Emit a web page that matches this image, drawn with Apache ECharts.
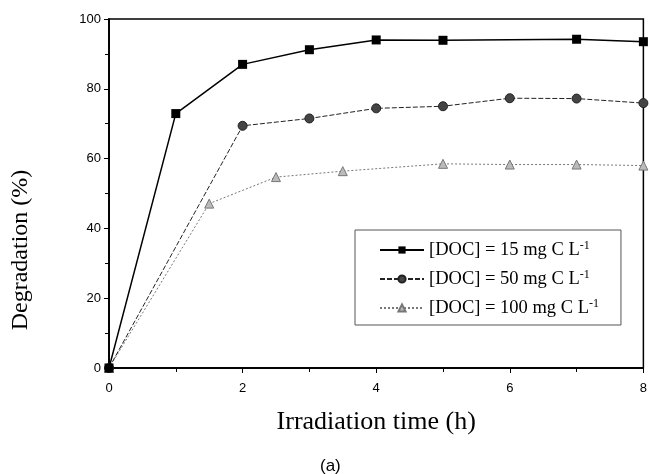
<!DOCTYPE html>
<html>
<head>
<meta charset="UTF-8">
<title>Degradation</title>
<script src="https://cdn.jsdelivr.net/npm/echarts@6/dist/echarts.min.js"></script>
<style>
  body { margin: 0; background: #fff; }
  #main { width: 650px; height: 474px; }
</style>
</head>
<body>
<div id="main"></div>
<script>
// irradiation time (h) / degradation (%)
var doc15X = [0, 1, 2, 3, 4, 5, 7, 8];
var doc15Y = [0, 72.9, 87.0, 91.2, 94.0, 93.9, 94.2, 93.5];
var doc50X = [0, 2, 3, 4, 5, 6, 7, 8];
var doc50Y = [0, 69.4, 71.5, 74.4, 75.0, 77.3, 77.2, 75.9];
var doc100X = [0, 1.5, 2.5, 3.5, 5, 6, 7, 8];
var doc100Y = [0, 47.1, 54.7, 56.4, 58.5, 58.3, 58.3, 58.0];
var names = ['[DOC] = 15 mg C L', '[DOC] = 50 mg C L', '[DOC] = 100 mg C L'];

function pairs(xs, ys) {
  var out = [];
  for (var i = 0; i < xs.length; i++) out.push([xs[i], ys[i]]);
  return out;
}

var myChart = echarts.init(document.getElementById('main'));
var serif = 'Liberation Serif';
var sans = 'Liberation Sans';

var axisLine = { show: true, lineStyle: { color: '#000', width: 1.5 } };
var tickStyle = { color: '#000', width: 1 };

var option = {
  backgroundColor: '#fff',
  animation: false,
  title: {
    text: '(a)',
    left: 315,
    top: 453,
    textStyle: { fontFamily: sans, fontSize: 17, fontWeight: 'normal', color: '#000' }
  },
  grid: { left: 109, right: 6, top: 19, bottom: 106, show: true, borderColor: '#000', borderWidth: 1.5 },
  legend: {
    orient: 'vertical',
    left: 355,
    top: 230,
    padding: [10, 22, 7, 24],
    itemGap: 9,
    itemWidth: 44,
    itemHeight: 9,
    backgroundColor: '#fff',
    borderColor: '#555',
    borderWidth: 1,
    borderRadius: 0,
    data: names,
    formatter: function (n) { return '{t|' + n + '}{s|-1}'; },
    textStyle: {
      rich: {
        t: { fontFamily: serif, fontSize: 18.5, lineHeight: 20, color: '#000' },
        s: { fontFamily: serif, fontSize: 12, lineHeight: 20, color: '#000', verticalAlign: 'top', padding: [0, 0, 8, 0] }
      }
    }
  },
  graphic: [{
    type: 'text',
    x: 9,
    y: 250,
    rotation: Math.PI / 2,
    style: {
      text: 'Degradation (%)',
      font: '24px "Liberation Serif"',
      fill: '#000',
      align: 'center',
      verticalAlign: 'top'
    }
  }],
  xAxis: [{
    type: 'value',
    min: 0, max: 8, interval: 2,
    name: 'Irradiation time (h)',
    nameLocation: 'middle',
    nameGap: 41,
    nameTextStyle: { fontFamily: serif, fontSize: 26, color: '#000' },
    axisLine: axisLine,
    axisTick: { show: true, inside: false, length: 5, lineStyle: tickStyle },
    minorTick: { show: true, splitNumber: 2, length: 4, lineStyle: tickStyle },
    axisLabel: { fontFamily: sans, fontSize: 13, color: '#000', margin: 14 },
    splitLine: { show: false }
  }, {
    type: 'value',
    position: 'top',
    min: 0, max: 8, interval: 2,
    axisLine: axisLine,
    axisTick: { show: true, inside: true, length: 5, lineStyle: tickStyle },
    minorTick: { show: true, splitNumber: 2, length: 4, lineStyle: tickStyle },
    axisLabel: { show: false },
    splitLine: { show: false }
  }],
  yAxis: [{
    type: 'value',
    min: 0, max: 100, interval: 20,
    axisLine: axisLine,
    axisTick: { show: true, inside: false, length: 5, lineStyle: tickStyle },
    minorTick: { show: true, splitNumber: 2, length: 4, lineStyle: tickStyle },
    axisLabel: { fontFamily: sans, fontSize: 13, color: '#000', margin: 8 },
    splitLine: { show: false }
  }, {
    type: 'value',
    position: 'right',
    min: 0, max: 100, interval: 20,
    axisLine: axisLine,
    axisTick: { show: true, inside: true, length: 5, lineStyle: tickStyle },
    minorTick: { show: true, splitNumber: 2, length: 4, lineStyle: tickStyle },
    axisLabel: { show: false },
    splitLine: { show: false }
  }],
  series: [{
    name: names[0],
    type: 'line',
    data: pairs(doc15X, doc15Y),
    symbol: 'rect',
    symbolSize: 9,
    z: 4,
    lineStyle: { color: '#000', width: 1.5 },
    itemStyle: { color: '#000' }
  }, {
    // drawn on the twin (top/right) axes, same ranges, so those frame axes render
    name: names[1],
    type: 'line',
    xAxisIndex: 1,
    yAxisIndex: 1,
    data: pairs(doc50X, doc50Y),
    symbol: 'circle',
    symbolSize: 9,
    z: 3,
    lineStyle: { color: '#222', width: 1, type: [5, 2] },
    itemStyle: { color: '#444', borderColor: '#222', borderWidth: 1 }
  }, {
    name: names[2],
    type: 'line',
    data: pairs(doc100X, doc100Y),
    symbol: 'triangle',
    symbolSize: 9,
    z: 2,
    lineStyle: { color: '#777', width: 1, type: [2, 2] },
    itemStyle: { color: '#bbb', borderColor: '#777', borderWidth: 1 }
  }]
};
myChart.setOption(option);
</script>
</body>
</html>
